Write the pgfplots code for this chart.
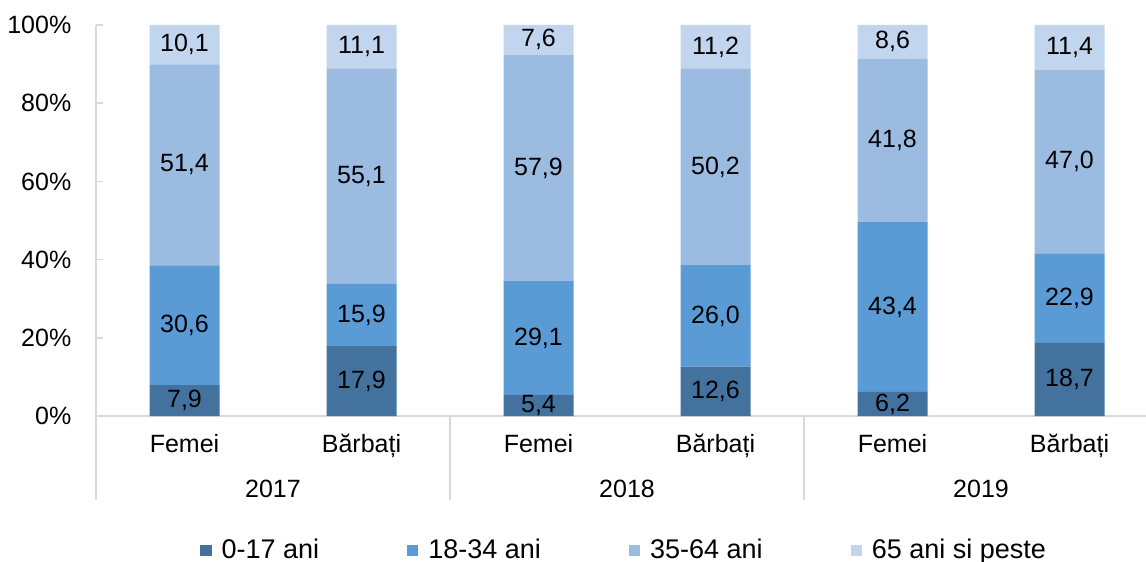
\documentclass[border=0pt]{standalone}
\usepackage{pgfplots}
\pgfplotsset{compat=1.18}
\usepackage{fontspec}
\setmainfont{Liberation Sans}
\definecolor{c1}{HTML}{44729F}
\definecolor{c2}{HTML}{5B9BD5}
\definecolor{c3}{HTML}{9BBBE1}
\definecolor{c4}{HTML}{C2D5EE}
\definecolor{axgray}{HTML}{D9D9D9}
\begin{document}
\fontsize{12.5}{15}\selectfont
\begin{tikzpicture}[font=\fontsize{12.5}{15}\selectfont]
\useasboundingbox (-48pt,-73pt) rectangle (525pt,208pt);
\begin{axis}[
  at={(0,0)}, anchor=south west,
  scale only axis, width=525pt, height=195.5pt,
  ybar stacked, bar width=35pt,
  xmin=-0.5, xmax=5.432, ymin=0, ymax=100,
  clip=false,
  axis x line*=bottom, axis y line*=left,
  axis line style={axgray, line width=0.8pt, -},
  /pgf/number format/assume math mode=true,
  ytick={0,20,...,100},
  yticklabel={\pgfmathprintnumber{\tick}\%},
  yticklabel style={xshift=-8pt, text=black},
  ytick style={axgray, line width=0.8pt},
  tick align=inside, major tick length=3.5pt,
  xtick={0,1,2,3,4,5},
  xticklabels={Femei,Bărbați,Femei,Bărbați,Femei,Bărbați},
  xtick style={draw=none},
  xticklabel style={anchor=base, yshift=-18pt, text=black},
  visualization depends on=rawy \as \rawy,
  nodes near coords={\pgfmathprintnumber[fixed,fixed zerofill,precision=1,use comma]{\rawy}},
  every node near coord/.append style={anchor=center, text=black},
  legend columns=4,
  legend style={at={(0.504,-0.343)}, anchor=center, draw=none, fill=none,
    font=\fontsize{13.5}{16}\selectfont,
    /tikz/every odd column/.append style={column sep=3pt},
    /tikz/every even column/.append style={column sep=42pt}},
  legend image code/.code={\fill[#1] (0pt,-2.8pt) rectangle (5.6pt,2.8pt);},
]
\addplot[fill=c1, draw=none] coordinates {(0,7.9) (1,17.9) (2,5.4) (3,12.6) (4,6.2) (5,18.7)};
\addplot[fill=c2, draw=none] coordinates {(0,30.6) (1,15.9) (2,29.1) (3,26.0) (4,43.4) (5,22.9)};
\addplot[fill=c3, draw=none] coordinates {(0,51.4) (1,55.1) (2,57.9) (3,50.2) (4,41.8) (5,47.0)};
\addplot[fill=c4, draw=none] coordinates {(0,10.1) (1,11.1) (2,7.6) (3,11.2) (4,8.6) (5,11.4)};
\legend{0-17 ani,18-34 ani,35-64 ani,65 ani si peste}
\draw[axgray, line width=0.8pt] (axis cs:-0.5,0) -- ([yshift=-42pt]axis cs:-0.5,0);
\draw[axgray, line width=0.8pt] (axis cs:1.5,0) -- ([yshift=-42pt]axis cs:1.5,0);
\draw[axgray, line width=0.8pt] (axis cs:3.5,0) -- ([yshift=-42pt]axis cs:3.5,0);
\node[anchor=base] at ([yshift=-40.5pt]axis cs:0.5,0) {2017};
\node[anchor=base] at ([yshift=-40.5pt]axis cs:2.5,0) {2018};
\node[anchor=base] at ([yshift=-40.5pt]axis cs:4.5,0) {2019};
\end{axis}
\end{tikzpicture}
\end{document}
